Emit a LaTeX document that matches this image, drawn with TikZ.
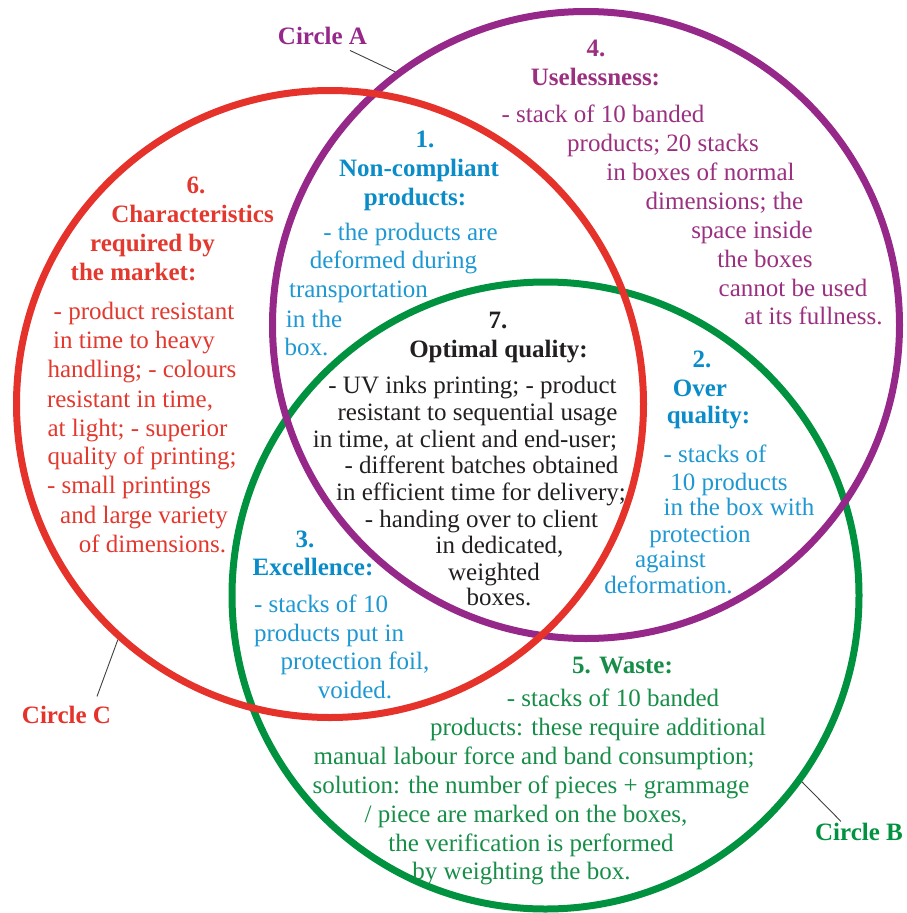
\documentclass[tikz,border=0pt]{standalone}
\usepackage{fontspec}
\setmainfont{Liberation Serif}

\definecolor{ringA}{RGB}{150,40,138}
\definecolor{ringB}{RGB}{0,146,63}
\definecolor{ringC}{RGB}{229,50,42}
\definecolor{txtA}{RGB}{155,48,128}
\definecolor{txtB}{RGB}{22,142,72}
\definecolor{txtC}{RGB}{226,56,46}
\definecolor{txtblue}{RGB}{30,152,210}
\definecolor{headblue}{RGB}{10,140,200}
\definecolor{txtdark}{RGB}{35,31,32}

\tikzset{
    ring/.style={circle, draw, line width=7pt, minimum size=627pt, inner sep=0pt},
    body/.style={anchor=base, inner sep=0pt, font=\fontsize{25}{29}\selectfont},
    head/.style={body, font=\fontsize{25}{29}\selectfont\bfseries},
    leader/.style={draw=black!75, line width=0.9pt},
}

\begin{document}
\begin{tikzpicture}[x=1pt, y=-1pt]
    \useasboundingbox (0,0) rectangle (906,913);

    \node[ring, draw=ringB] (B) at (545.5,595.5) {};
    \node[ring, draw=ringA] (A) at (586,325) {};
    \node[ring, draw=ringC] (C) at (330,404) {};

    \node[head, text=ringA] (labA) at (322.5,44) {Circle A};
    \node[head, text=ringC] (labC) at (66.5,723) {Circle C};
    \node[head, text=ringB] (labB) at (859,840) {Circle B};
    \draw[leader] ([xshift=27.5pt,yshift=-6pt]labA.south) -- (A.127);
    \draw[leader] ([xshift=30.5pt,yshift=9pt]labC.north) -- (C.228);
    \draw[leader] ([xshift=-18pt,yshift=1pt]labB.north) -- (B.-36);

    % 4. uselessness
    \foreach \x/\y/\words [count=\i] in {596/56/4., 595.5/85/{Uselessness:}}
        \node[head, text=txtA] (use-h\i) at (\x,\y) {\words};
    \foreach \x/\y/\words [count=\i] in {603/122/{- stack of 10 banded},
        663/151/{products; 20 stacks}, 700.5/180/{in boxes of normal},
        724.5/209/{dimensions; the}, 752/238/{space inside}, 765/267/{the boxes},
        793/296/{cannot be used}, 813.5/324/{at its fullness.}}
        \node[body, text=txtA] (use-\i) at (\x,\y) {\words};

    % 6. market
    \foreach \x/\y/\words [count=\i] in {196/193/6., 192.5/222/Characteristics,
        152.5/251/{required by}, 133.5/280/{the market:}}
        \node[head, text=txtC] (mkt-h\i) at (\x,\y) {\words};
    \foreach \x/\y/\words [count=\i] in {144/319/{- product resistant},
        134/348/{in time to heavy}, 142/377/{handling; - colours},
        130/407/{resistant in time,}, 137.5/436/{at light; - superior},
        142/464/{quality of printing;}, 129/493/{- small printings},
        144/523/{and large variety}, 152.5/552/{of dimensions.}}
        \node[body, text=txtC] (mkt-\i) at (\x,\y) {\words};

    % 1. non-compliant
    \foreach \x/\y/\words [count=\i] in {425/147/1., 419/176/Non-compliant,
        415/205/{products:}}
        \node[head, text=headblue] (non-h\i) at (\x,\y) {\words};
    \foreach \x/\y/\words [count=\i] in {410.5/240/{- the products are},
        393.5/268/{deformed during}, 358.5/297/transportation,
        314/327/{in the}, 306.5/355/{box.}}
        \node[body, text=txtblue] (non-\i) at (\x,\y) {\words};

    % 7. optimal
    \foreach \x/\y/\words [count=\i] in {498/328/7., 498.5/357/{Optimal quality:}}
        \node[head, text=txtdark] (opt-h\i) at (\x,\y) {\words};
    \foreach \x/\y/\words [count=\i] in {472.5/393/{- UV inks printing; - product},
        477.5/420/{resistant to sequential usage},
        465/447/{in time, at client and end-user;},
        481.5/473/{- different batches obtained},
        481/500/{in efficient time for delivery;},
        481.5/527/{- handing over to client}, 499.5/553/{in dedicated,},
        494/580/weighted, 499/605/{boxes.}}
        \node[body, text=txtdark] (opt-\i) at (\x,\y) {\words};

    % 2. over quality
    \foreach \x/\y/\words [count=\i] in {702/367/2., 700/396/Over, 708.5/423/{quality:}}
        \node[head, text=headblue] (ovr-h\i) at (\x,\y) {\words};
    \foreach \x/\y/\words [count=\i] in {715/462/{- stacks of}, 729/490/{10 products},
        739/515/{in the box with}, 700/542/protection, 670.5/567/against,
        668.5/593/{deformation.}}
        \node[body, text=txtblue] (ovr-\i) at (\x,\y) {\words};

    % 3. excellence
    \foreach \x/\y/\words [count=\i] in {305/547/3., 313/575/{Excellence:}}
        \node[head, text=headblue] (exc-h\i) at (\x,\y) {\words};
    \foreach \x/\y/\words [count=\i] in {321/612/{- stacks of 10},
        329/641/{products put in}, 355/669/{protection foil,}, 355/698/{voided.}}
        \node[body, text=txtblue] (exc-\i) at (\x,\y) {\words};

    % 5. waste
    \node[head, text=txtB] (wst-h1) at (622.5,673) {5. Waste:};
    \foreach \x/\y/\words [count=\i] in {613/706/{- stacks of 10 banded},
        598/735/{products: these require additional},
        534/764/{manual labour force and band consumption;},
        531/793/{solution: the number of pieces + grammage},
        526/822/{/ piece are marked on the boxes,},
        531/851/{the verification is performed},
        521.5/879/{by weighting the box.}}
        \node[body, text=txtB] (wst-\i) at (\x,\y) {\words};
\end{tikzpicture}
\end{document}
